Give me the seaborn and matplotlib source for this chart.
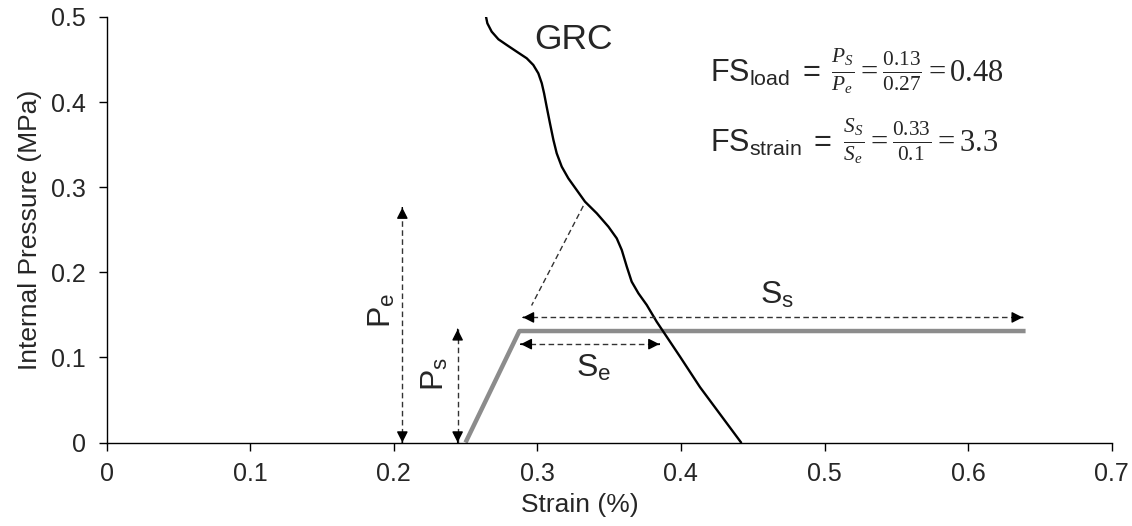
import matplotlib
matplotlib.use("Agg")
import matplotlib.pyplot as plt
import seaborn as sns
import pandas as pd

# ---- data ----
grc_strain = [0.2643, 0.2652, 0.2682, 0.2729, 0.2787, 0.2857, 0.2926, 0.2972, 0.3007,
              0.3031, 0.3047, 0.3065, 0.3088, 0.3112, 0.3135, 0.3170, 0.3216, 0.3274,
              0.3332, 0.3414, 0.3495, 0.3553, 0.3588, 0.3623, 0.3657, 0.3704, 0.3762,
              0.3831, 0.3901, 0.3994, 0.4133, 0.4419]
grc_pressure = [0.500, 0.4926, 0.4828, 0.4738, 0.4671, 0.4592, 0.4515, 0.4436, 0.4338,
                0.4221, 0.4103, 0.3946, 0.3751, 0.3555, 0.3398, 0.3241, 0.3104, 0.2967,
                0.2830, 0.2693, 0.2536, 0.2399, 0.2262, 0.2066, 0.1890, 0.1753, 0.1616,
                0.1420, 0.1243, 0.1008, 0.0650, 0.0]
support_strain = [0.25, 0.2875, 0.64]
support_pressure = [0.0, 0.131, 0.131]

x_ticks = [0, 0.1, 0.2, 0.3, 0.4, 0.5, 0.6, 0.7]
x_tick_labels = ["0", "0.1", "0.2", "0.3", "0.4", "0.5", "0.6", "0.7"]
y_ticks = [0, 0.1, 0.2, 0.3, 0.4, 0.5]
y_tick_labels = ["0", "0.1", "0.2", "0.3", "0.4", "0.5"]

# annotation arrows (data coordinates)
pe_arrow = dict(x=0.206, y0=0.0, y1=0.276)
ps_arrow = dict(x=0.2445, y0=0.0, y1=0.133)
se_arrow = dict(y=0.1156, x0=0.2885, x1=0.385)
ss_arrow = dict(y=0.147, x0=0.290, x1=0.638)
leader = dict(x0=0.332, y0=0.278, x1=0.296, y1=0.161)

sns.set_style("ticks")
plt.rcParams["font.family"] = ["Liberation Sans", "DejaVu Sans"]
plt.rcParams["mathtext.fontset"] = "custom"
plt.rcParams["mathtext.rm"] = "Liberation Serif"
plt.rcParams["mathtext.it"] = "Liberation Serif:italic"
plt.rcParams["mathtext.sf"] = "Liberation Sans"

fig = plt.figure(figsize=(11.32, 5.26), dpi=100)
ax = fig.add_axes([0.0941, 0.1587, 0.888, 0.809])

grc = pd.DataFrame({"strain": grc_strain, "pressure": grc_pressure})
sup = pd.DataFrame({"strain": support_strain, "pressure": support_pressure})
sns.lineplot(data=sup, x="strain", y="pressure", sort=False, estimator=None,
             color="#8c8c8c", lw=3.2, ax=ax, solid_capstyle="butt")
sns.lineplot(data=grc, x="strain", y="pressure", sort=False, estimator=None,
             color="black", lw=1.7, ax=ax)

ax.set_xlim(0, 0.7)
ax.set_ylim(0, 0.5)
ax.set_xticks(x_ticks, x_tick_labels)
ax.set_yticks(y_ticks, y_tick_labels)
ax.tick_params(axis="both", labelsize=18, length=6, width=1, color="black")
ax.tick_params(axis="x", pad=8)
ax.tick_params(axis="y", pad=9)
ax.set_xlabel("Strain (%)", fontsize=19)
ax.set_ylabel("Internal Pressure (MPa)", fontsize=19)
ax.xaxis.set_label_coords(0.471, -0.118)
ax.yaxis.set_label_coords(-0.064, 0.5)
for s in ["top", "right"]:
    ax.spines[s].set_visible(False)
for s in ["left", "bottom"]:
    ax.spines[s].set_color("black")
    ax.spines[s].set_linewidth(1)

dash_kw = dict(color="#333333", lw=1.0, dashes=(4, 2.5))
head = "-|>,head_length=0.65,head_width=0.33"


def dashed_arrow(p0, p1, both=True):
    ax.plot([p0[0], p1[0]], [p0[1], p1[1]], **dash_kw)

    def tip(a, b):
        ax.annotate("", xy=a, xytext=(a[0] + (b[0] - a[0]) * 0.001, a[1] + (b[1] - a[1]) * 0.001),
                    arrowprops=dict(arrowstyle=head, color="black", lw=1,
                                    shrinkA=0, shrinkB=0, mutation_scale=10))
    tip(p1, p0)
    if both:
        tip(p0, p1)


dashed_arrow((pe_arrow["x"], pe_arrow["y0"]), (pe_arrow["x"], pe_arrow["y1"]))
dashed_arrow((ps_arrow["x"], ps_arrow["y0"]), (ps_arrow["x"], ps_arrow["y1"]))
dashed_arrow((se_arrow["x0"], se_arrow["y"]), (se_arrow["x1"], se_arrow["y"]))
dashed_arrow((ss_arrow["x0"], ss_arrow["y"]), (ss_arrow["x1"], ss_arrow["y"]))
ax.plot([leader["x0"], leader["x1"]], [leader["y0"], leader["y1"]], **dash_kw)

lab = 23
ax.text(0.192, 0.155, r"P$_\mathregular{e}$", rotation=90, fontsize=lab, ha="center", va="center")
ax.text(0.229, 0.081, r"P$_\mathregular{s}$", rotation=90, fontsize=lab, ha="center", va="center")
ax.text(0.339, 0.0875, r"S$_\mathregular{e}$", fontsize=lab, ha="center", va="center")
ax.text(0.467, 0.173, r"S$_\mathregular{s}$", fontsize=lab, ha="center", va="center")
ax.text(0.325, 0.473, "GRC", fontsize=25.5, ha="center", va="center")

ax.text(0.420, 0.4236,
        r"$\mathsf{FS}_{\mathsf{load}}\mathsf{\ =\ }\frac{P_S}{P_e} = \frac{0.13}{0.27} = 0.48$",
        fontsize=22, ha="left", va="baseline")
ax.text(0.420, 0.341,
        r"$\mathsf{FS}_{\mathsf{strain}}\mathsf{\ =\ }\frac{S_S}{S_e} = \frac{0.33}{0.1} = 3.3$",
        fontsize=22, ha="left", va="baseline")

fig.savefig("out.png", dpi=100)
